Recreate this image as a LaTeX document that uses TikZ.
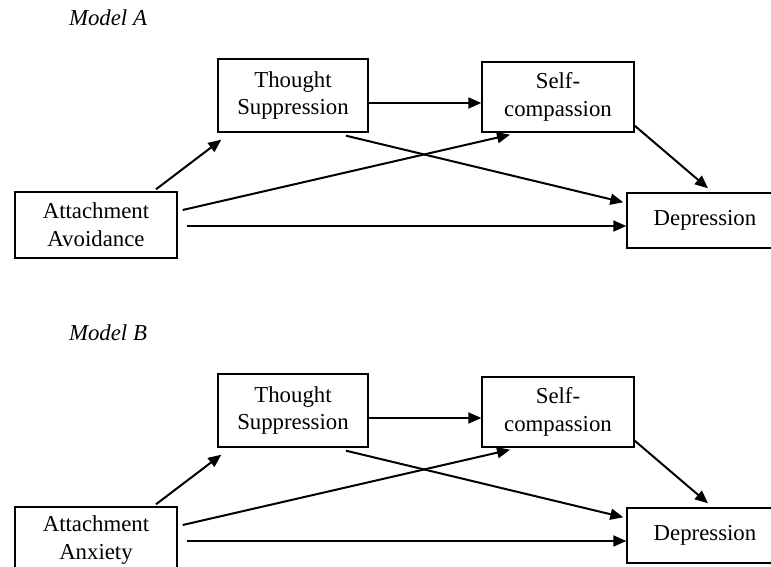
\documentclass[tikz,border=0pt]{standalone}
\usepackage{fontspec}
\setmainfont{Liberation Serif}
\usetikzlibrary{arrows.meta,calc}
\tikzset{
  box/.style={draw, line width=0.7pt, inner sep=0pt, align=center,
    font=\fontsize{11.4}{13.85}\selectfont},
  arr/.style={-{Triangle[length=6.5pt,width=5.5pt]}, line width=1pt},
}
\begin{document}
\begin{tikzpicture}[x=0.5pt,y=0.5pt]
  \useasboundingbox (0,0) rectangle (771,567);
  \clip (0,0) rectangle (771,567);
  \foreach \dy/\m/\src in {0/A/Avoidance,-315/B/Anxiety} {
    \begin{scope}[yshift=\dy*0.5pt]
      \node[font=\fontsize{11.4}{13.85}\selectfont\itshape] (lab\m) at (108,549) {Model \m};

      \node[box, minimum width=75pt, minimum height=36.5pt] (ts\m) at (293,471.5) {Thought\\Suppression};
      \node[box, minimum width=76pt, minimum height=35pt] (sc\m) at (558,470) {Self-\\compassion};
      \node[box, minimum width=81pt, minimum height=33pt] (aa\m) at (96,342) {Attachment\\\src};
      \node[box, minimum width=78pt, minimum height=27.5pt] (dep\m) at (705,346.5) {Depression};

      \draw[arr] ($(aa\m.north)+(60,2)$) -- ($(ts\m.south west)+(4,-7)$);
      \draw[arr] ([yshift=-3.75pt]ts\m.east) -- ([yshift=-3.75pt]ts\m.east -| sc\m.west);
      \draw[arr] ($(ts\m.south)+(53,-3)$) -- ($(dep\m.north west)+(-3,-10)$);
      \draw[arr] ($(aa\m.east)+(5,15)$) -- ($(sc\m.south)+(-48,-2)$);
      \draw[arr] ([xshift=4.5pt,yshift=-0.5pt]aa\m.east) -- ([yshift=-0.5pt]aa\m.east -| dep\m.west);
      \draw[arr] ($(sc\m.south east)+(0,7)$) -- ($(dep\m.north)+(3,4)$);
    \end{scope}
  }
\end{tikzpicture}
\end{document}
